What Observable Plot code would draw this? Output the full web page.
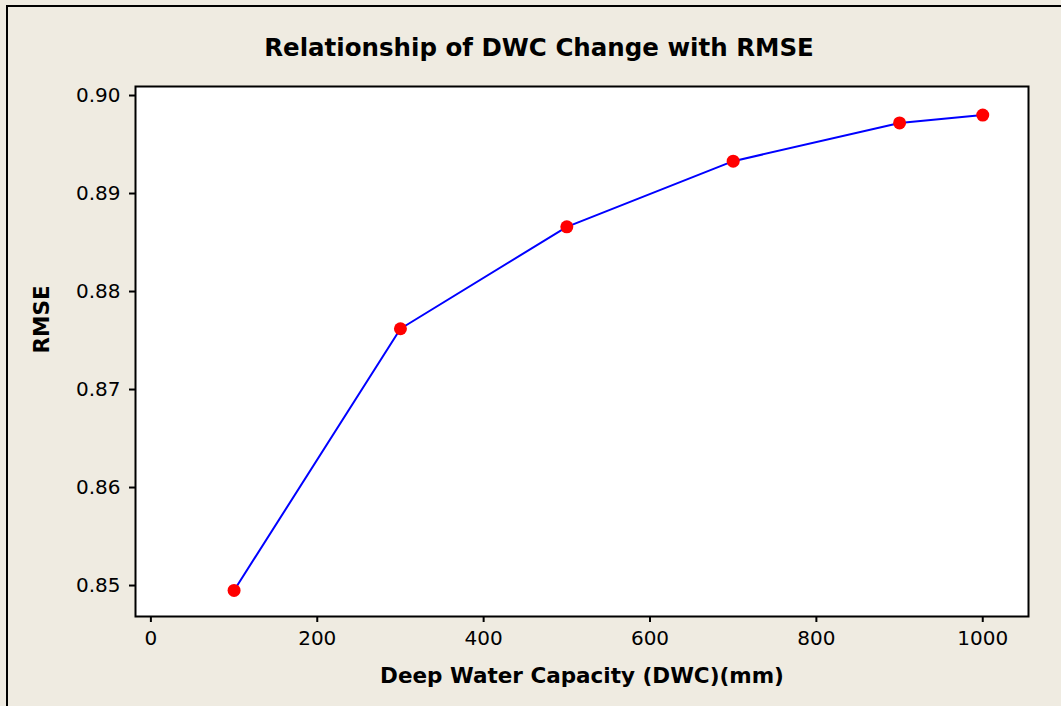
<!DOCTYPE html>
<html>
<head>
<meta charset="utf-8">
<script src="https://cdn.jsdelivr.net/npm/d3@7"></script>
<script src="https://cdn.jsdelivr.net/npm/@observablehq/plot@0.6"></script>
<style>
  body { margin: 0; background: #efebe1; }
  #wrap { position: relative; width: 1061px; height: 706px; overflow: hidden; background: #efebe1; }
  #edge { position: absolute; left: 6px; top: 5px; width: 1200px; height: 900px; border-left: 2px solid #000; border-top: 2px solid #000; }
  #chart { position: absolute; left: 0; top: 0; }
</style>
</head>
<body>
<div id="wrap"><div id="edge"></div><div id="chart"></div></div>
<script>
const title = "Relationship of DWC Change with RMSE";
const xLabel = "Deep Water Capacity (DWC)(mm)";
const yLabel = "RMSE";
const dwc = [100, 300, 500, 700, 900, 1000];
const rmse = [0.8495, 0.8762, 0.8866, 0.8933, 0.8972, 0.8980];
const xTicks = [0, 200, 400, 600, 800, 1000];
const yTicks = [0.85, 0.86, 0.87, 0.88, 0.89, 0.90];

const data = dwc.map((d, i) => ({dwc: d, rmse: rmse[i]}));

const chart = Plot.plot({
  width: 1061,
  height: 706,
  marginLeft: 135,
  marginRight: 33,
  marginTop: 86,
  marginBottom: 90,
  style: {background: "transparent", fontFamily: "DejaVu Sans, sans-serif", fontSize: "20px", color: "#000"},
  x: {domain: [-18.5, 1055]},
  y: {domain: [0.84684, 0.90092]},
  marks: [
    Plot.frame({fill: "white", stroke: "none"}),
    Plot.axisX({ticks: xTicks, tickSize: 6, tickPadding: 8, strokeWidth: 2, tickFormat: d3.format("d"), label: null, fontSize: 20}),
    Plot.axisY({ticks: yTicks, tickSize: 6, tickPadding: 9, strokeWidth: 2, tickFormat: d3.format(".2f"), label: null, fontSize: 20}),
    Plot.line(data, {x: "dwc", y: "rmse", stroke: "#0000ff", strokeWidth: 2}),
    Plot.dot(data, {x: "dwc", y: "rmse", r: 6.5, fill: "#ff0000", stroke: "none"}),
    Plot.frame({stroke: "#000", strokeWidth: 2}),
    Plot.text([xLabel], {frameAnchor: "bottom", lineAnchor: "middle", dy: 60, fontWeight: "bold", fontSize: 21.5, fill: "#000"}),
    Plot.text([yLabel], {frameAnchor: "left", lineAnchor: "middle", dx: -93, dy: 2, rotate: -90, fontWeight: "bold", fontSize: 21.5, fill: "#000"}),
    Plot.text([title], {frameAnchor: "top", lineAnchor: "middle", dy: -38, dx: -43, fontWeight: "bold", fontSize: 24.5, fill: "#000"})
  ]
});
document.getElementById("chart").appendChild(chart);
</script>
</body>
</html>
